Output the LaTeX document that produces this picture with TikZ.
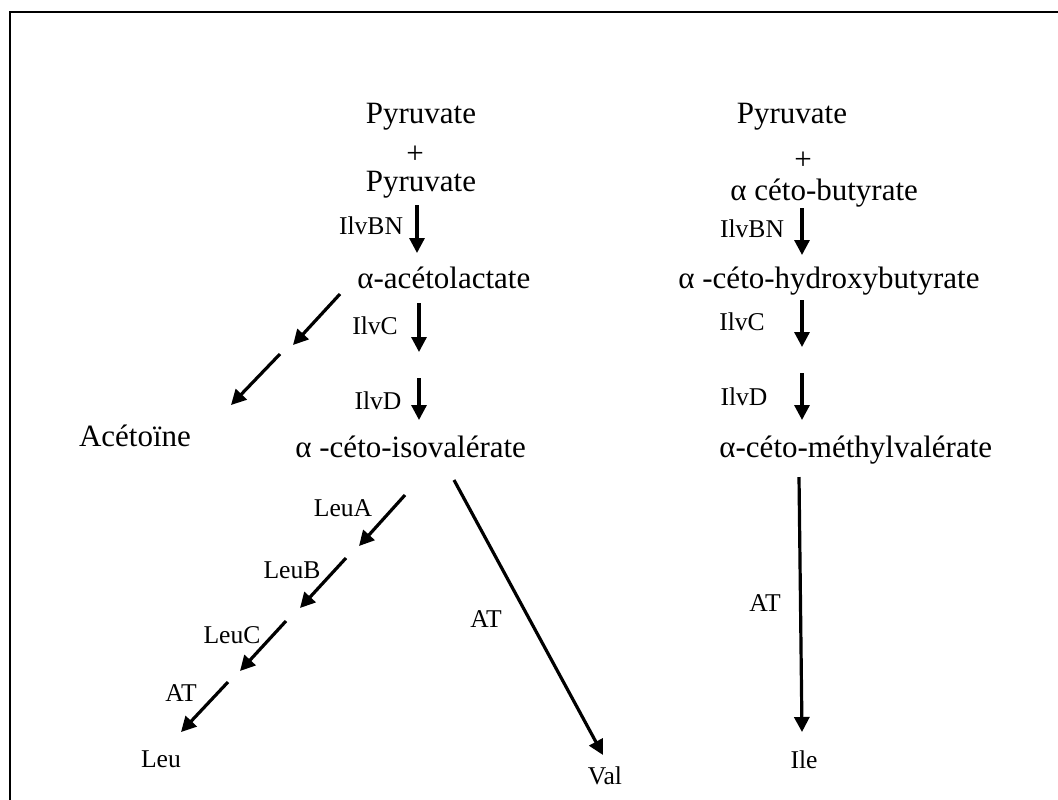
\documentclass[tikz,border=0pt]{standalone}
\usepackage{fontspec}
\setmainfont{Liberation Serif}
\usetikzlibrary{arrows.meta}
\begin{document}
\begin{tikzpicture}[x=0.5pt,y=-0.5pt,
  big/.style={font=\fontsize{15.5}{18}\selectfont, inner sep=0pt, anchor=base},
  small/.style={font=\fontsize{12.8}{15}\selectfont, inner sep=0pt, anchor=base},
  rxn/.style={line width=1.6pt, -{Triangle[length=7.5pt,width=7.5pt]}},
  framestyle/.style={line width=1.1pt}]
\useasboundingbox (0,0) rectangle (1058,799);
\fill[white] (0,0) rectangle (1058,799);
\draw[framestyle] (1060,12) -- (10,12) -- (10,801);

% left column
\node[big] (pyr1) at (421,123) {Pyruvate};
\node[big] (plus1) at (415,163) {+};
\node[big] (pyr2) at (421,191) {Pyruvate};
\node[small] (ilvbn1) at (371,234) {IlvBN};
\node[big,anchor=base west] (aal) at (357,288) {α-acétolactate};
\node[small] (ilvc1) at (375,334) {IlvC};
\node[small] (ilvd1) at (378,409) {IlvD};
\node[big] (acet) at (135,446) {Acétoïne};
\node[big,anchor=base west] (akiv) at (295,457) {α -céto-isovalérate};
\node[small] (leua) at (343,516) {LeuA};
\node[small] (leub) at (292,578) {LeuB};
\node[small] (leuc) at (232,643) {LeuC};
\node[small] (at1) at (181,701) {AT};
\node[small] (leu) at (161,767) {Leu};
\node[small] (at2) at (486,627) {AT};
\node[small] (val) at (605,784) {Val};

% right column
\node[big] (pyr3) at (792,123) {Pyruvate};
\node[big] (plus2) at (803,169) {+};
\node[big,anchor=base west] (akb) at (730,200) {α céto-butyrate};
\node[small] (ilvbn2) at (752,237) {IlvBN};
\node[big,anchor=base west] (akhb) at (678,288) {α -céto-hydroxybutyrate};
\node[small] (ilvc2) at (742,330) {IlvC};
\node[small] (ilvd2) at (744,405) {IlvD};
\node[big,anchor=base west] (akmv) at (719,457) {α-céto-méthylvalérate};
\node[small] (at3) at (765,611) {AT};
\node[small] (ile) at (804,768) {Ile};

% arrow end points
\coordinate (a1s) at (417,205); \coordinate (a1e) at (417,253);
\coordinate (a2s) at (419,303); \coordinate (a2e) at (419,352);
\coordinate (a3s) at (419,378); \coordinate (a3e) at (419,420);
\coordinate (c1s) at (340,294); \coordinate (c1e) at (293,345);
\coordinate (c2s) at (280,354); \coordinate (c2e) at (231,405);
\coordinate (l1s) at (405,495); \coordinate (l1e) at (359,546);
\coordinate (l2s) at (346,558); \coordinate (l2e) at (300,608);
\coordinate (l3s) at (286,621); \coordinate (l3e) at (240,671);
\coordinate (l4s) at (228,682); \coordinate (l4e) at (181,732);
\coordinate (vs) at (454,480); \coordinate (ve) at (603,755);
\coordinate (b1s) at (802,208); \coordinate (b1e) at (802,255);
\coordinate (b2s) at (802,300); \coordinate (b2e) at (802,347);
\coordinate (b3s) at (802,373); \coordinate (b3e) at (802,420);
\coordinate (is) at (799,477); \coordinate (ie) at (802,732);

\draw[rxn] (a1s) -- (a1e);
\draw[rxn] (a2s) -- (a2e);
\draw[rxn] (a3s) -- (a3e);
\draw[rxn] (c1s) -- (c1e);
\draw[rxn] (c2s) -- (c2e);
\draw[rxn] (l1s) -- (l1e);
\draw[rxn] (l2s) -- (l2e);
\draw[rxn] (l3s) -- (l3e);
\draw[rxn] (l4s) -- (l4e);
\draw[rxn] (vs) -- (ve);
\draw[rxn] (b1s) -- (b1e);
\draw[rxn] (b2s) -- (b2e);
\draw[rxn] (b3s) -- (b3e);
\draw[rxn] (is) -- (ie);
\end{tikzpicture}
\end{document}
